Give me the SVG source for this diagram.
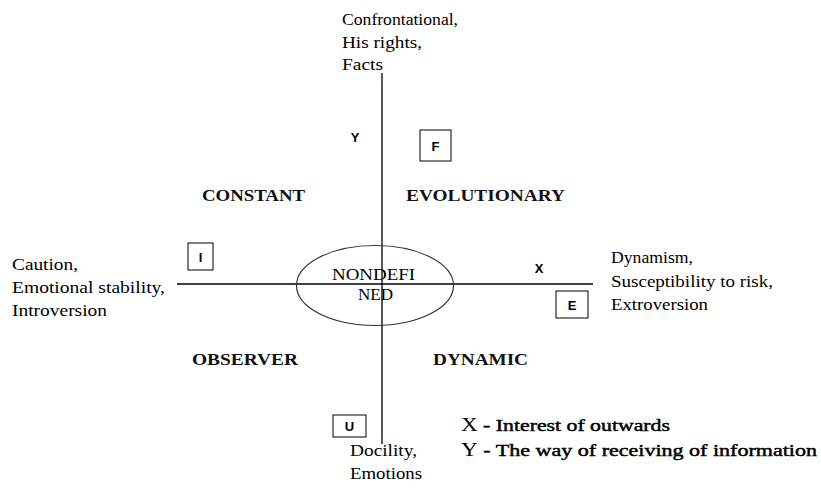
<svg xmlns="http://www.w3.org/2000/svg" width="821" height="489" viewBox="0 0 821 489">
<style>
.t{font-family:"Liberation Serif","Times New Roman",serif;font-size:16px;fill:#000}
.q{font-family:"Liberation Serif","Times New Roman",serif;font-size:16px;font-weight:bold;fill:#111}
.s{font-family:"Liberation Sans",Arial,sans-serif;font-size:13px;font-weight:bold;fill:#000}
.l{font-family:"Liberation Serif","Times New Roman",serif;font-size:18px;fill:#000}
.lb{font-size:17px;stroke:#000;stroke-width:0.45}
.ln{stroke:#000;stroke-width:1.3;fill:none}
.bx{stroke:#000;stroke-width:1;fill:#fff}
</style>
<rect width="821" height="489" fill="#fff"/>
<g id="connectors">
<line class="ln" x1="382" y1="73" x2="382" y2="444"/>
<line class="ln" x1="177" y1="284" x2="593" y2="284"/>
</g>
<g id="center">
<ellipse cx="375" cy="285.5" rx="78.5" ry="40" fill="none" stroke="#333" stroke-width="1.2"/>
<text class="t" x="332" y="280" textLength="83" lengthAdjust="spacingAndGlyphs" font-size="17">NONDEFI</text>
<text class="t" x="358" y="300" textLength="35" lengthAdjust="spacingAndGlyphs" font-size="17">NED</text>
</g>
<g id="top-label">
<text class="t" x="342" y="25" textLength="116" lengthAdjust="spacingAndGlyphs">Confrontational,</text>
<text class="t" x="342" y="48" textLength="80" lengthAdjust="spacingAndGlyphs">His rights,</text>
<text class="t" x="342" y="70" textLength="41" lengthAdjust="spacingAndGlyphs">Facts</text>
</g>
<g id="left-label">
<text class="t" x="12" y="270" textLength="66" lengthAdjust="spacingAndGlyphs">Caution,</text>
<text class="t" x="12" y="293" textLength="153" lengthAdjust="spacingAndGlyphs">Emotional stability,</text>
<text class="t" x="12" y="316" textLength="95" lengthAdjust="spacingAndGlyphs">Introversion</text>
</g>
<g id="right-label">
<text class="t" x="611" y="263" textLength="82" lengthAdjust="spacingAndGlyphs">Dynamism,</text>
<text class="t" x="611" y="287" textLength="162" lengthAdjust="spacingAndGlyphs">Susceptibility to risk,</text>
<text class="t" x="611" y="310" textLength="97" lengthAdjust="spacingAndGlyphs">Extroversion</text>
</g>
<g id="bottom-label">
<text class="t" x="350" y="456" textLength="67" lengthAdjust="spacingAndGlyphs">Docility,</text>
<text class="t" x="350" y="479" textLength="72" lengthAdjust="spacingAndGlyphs">Emotions</text>
</g>
<g id="quadrants">
<text class="q" x="202" y="201" textLength="103" lengthAdjust="spacingAndGlyphs">CONSTANT</text>
<text class="q" x="406" y="201" textLength="159" lengthAdjust="spacingAndGlyphs">EVOLUTIONARY</text>
<text class="q" x="192" y="365" textLength="106" lengthAdjust="spacingAndGlyphs">OBSERVER</text>
<text class="q" x="433" y="365" textLength="95" lengthAdjust="spacingAndGlyphs">DYNAMIC</text>
</g>
<g id="axis-labels">
<text class="s" x="355" y="142" text-anchor="middle">Y</text>
<text class="s" x="539" y="273" text-anchor="middle">X</text>
</g>
<g id="box-F">
<rect class="bx" x="420" y="130" width="31" height="31"/>
<text class="s" x="435.5" y="150.5" text-anchor="middle">F</text>
</g>
<g id="box-I">
<rect class="bx" x="188" y="243" width="25" height="27"/>
<text class="s" x="200.5" y="261.5" text-anchor="middle">I</text>
</g>
<g id="box-E">
<rect class="bx" x="556" y="291" width="32" height="27"/>
<text class="s" x="572" y="309.5" text-anchor="middle">E</text>
</g>
<g id="box-U">
<rect class="bx" x="333" y="415" width="33" height="22"/>
<text class="s" x="349.5" y="430.5" text-anchor="middle">U</text>
</g>
<g id="legend">
<text class="l" x="461" y="431" textLength="209" lengthAdjust="spacingAndGlyphs">X<tspan class="lb"> - Interest of outwards</tspan></text>
<text class="l" x="461" y="456" textLength="356" lengthAdjust="spacingAndGlyphs">Y<tspan class="lb"> - The way of receiving of information</tspan></text>
</g>
</svg>
